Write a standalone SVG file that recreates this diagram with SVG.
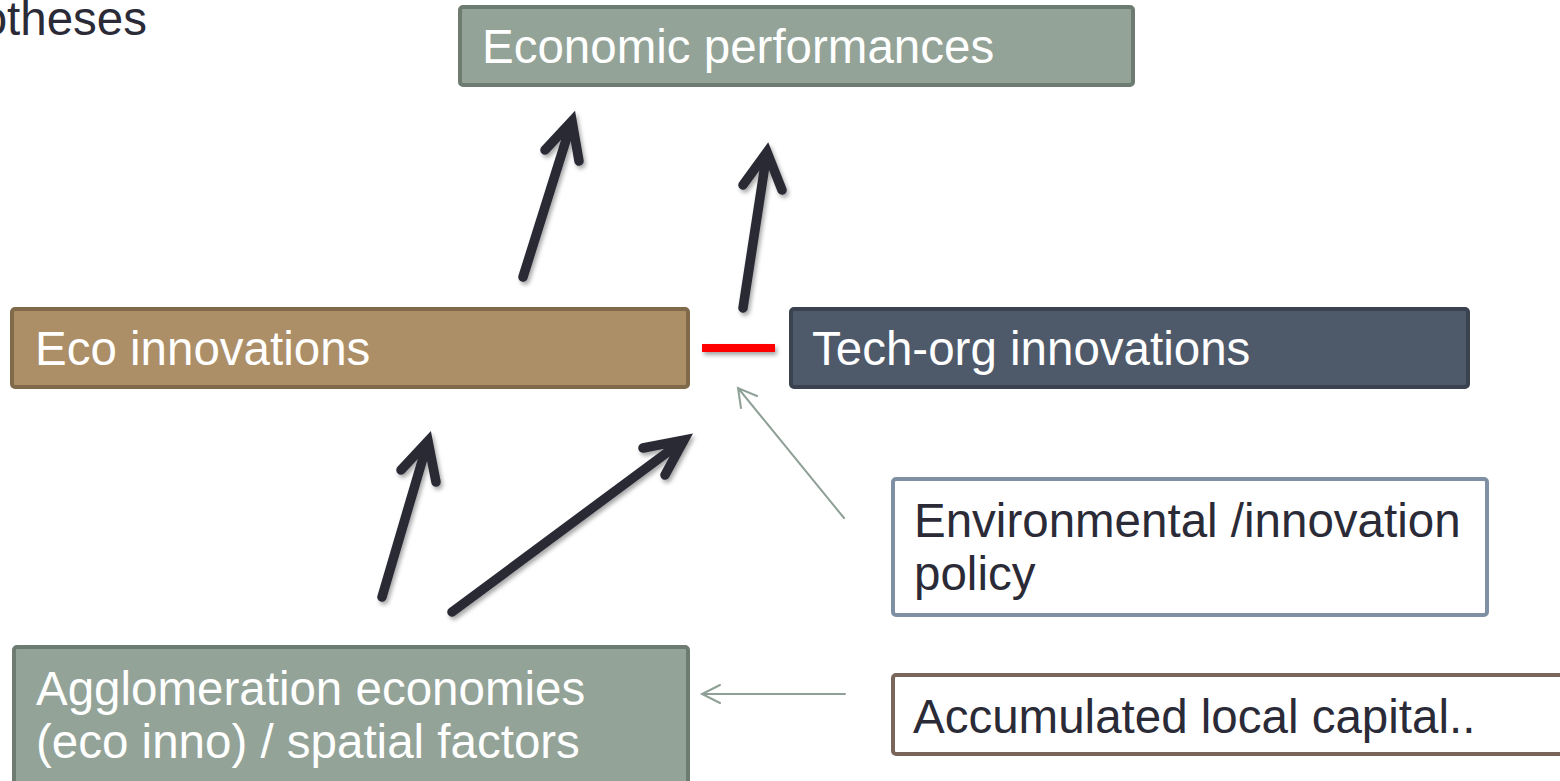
<svg xmlns="http://www.w3.org/2000/svg" width="1560" height="781" viewBox="0 0 1560 781">
<defs>
<filter id="sh" x="-20%" y="-20%" width="140%" height="140%">
<feDropShadow dx="2" dy="3" stdDeviation="2" flood-color="#000" flood-opacity="0.35"/>
</filter>
</defs>
<style>
text{font-family:"Liberation Sans",Arial,sans-serif;font-size:47.5px}
.w{fill:#ffffff}
.d{fill:#2b2b38}
.box{stroke-width:4}
.thick{fill:none;stroke:#2a2a36;stroke-width:9.5;stroke-linecap:round;stroke-linejoin:miter}
.thin{fill:none;stroke:#8fa197;stroke-width:2;stroke-linecap:round}
</style>
<rect width="1560" height="781" fill="#ffffff"/>
<text class="d" x="147" y="35" text-anchor="end">otheses</text>

<g id="econ">
<rect class="box" x="460" y="7" width="673" height="78" rx="3" fill="#93a397" stroke="#6e7b70"/>
<text class="w" x="482" y="63">Economic performances</text>
</g>
<g id="eco">
<rect class="box" x="12" y="309" width="676" height="78" rx="3" fill="#ac8e67" stroke="#806a4a"/>
<text class="w" x="35" y="365">Eco innovations</text>
</g>
<g id="tech">
<rect class="box" x="791" y="309" width="677" height="78" rx="3" fill="#4e5a6a" stroke="#39424e"/>
<text class="w" x="812" y="365">Tech-org innovations</text>
</g>
<g id="policy">
<rect class="box" x="893" y="479" width="594" height="136" rx="3" fill="#ffffff" stroke="#8090a4"/>
<text class="d" x="914" y="537">Environmental /innovation</text>
<text class="d" x="914" y="590">policy</text>
</g>
<g id="agglo">
<rect class="box" x="14" y="647" width="674" height="150" rx="3" fill="#93a397" stroke="#6e7b70"/>
<text class="w" x="36" y="705">Agglomeration economies</text>
<text class="w" x="36" y="758">(eco inno) / spatial factors</text>
</g>
<g id="capital">
<rect class="box" x="893" y="675" width="700" height="79" rx="3" fill="#ffffff" stroke="#7a655a"/>
<text class="d" x="913" y="733">Accumulated local capital..</text>
</g>

<g id="connectors">
<g filter="url(#sh)">
<path class="thick" d="M523,277 L572,121 M545,150 L572,121 L579,161"/>
<path class="thick" d="M743,308 L767,152 M743,185 L767,152 L782,190"/>
<path class="thick" d="M382,597 L428,441 M401,470 L428,441 L436,482"/>
<path class="thick" d="M452,612 L684,440 M643,448 L684,440 L665,475"/>
<rect x="702" y="344" width="73" height="8" fill="#ff0000"/>
</g>
<path class="thin" d="M844,518 L738,388 M757,396 L738,388 L741,408"/>
<path class="thin" d="M845,694 L702,694 M720,685 L702,694 L720,703"/>
</g>
</svg>
